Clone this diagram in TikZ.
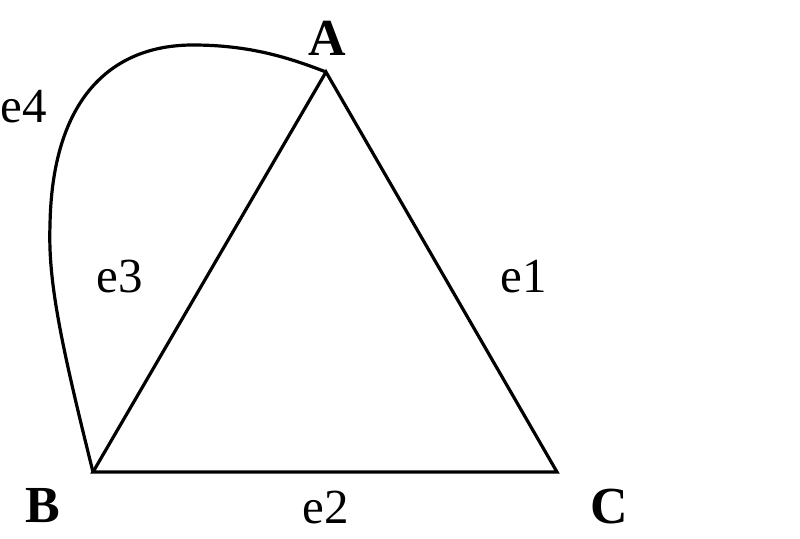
\documentclass[tikz,border=0pt]{standalone}
\usepackage{fontspec}
\setmainfont{Liberation Serif}
\usetikzlibrary{calc}
\usetikzlibrary{positioning}
\begin{document}
\begin{tikzpicture}[
	x=1pt, y=-1pt,
	edge/.style = {line width=3.2pt, line join=miter},
	vlabel/.style = {font=\fontsize{52}{54}\selectfont\bfseries},
	elabel/.style = {font=\fontsize{49}{52}\selectfont}
	]
	\useasboundingbox (0,0) rectangle (800,538);

	\coordinate (A) at (326,72);
	\coordinate (B) at (93,472);
	\coordinate (C) at (557,472);
	\coordinate (@1) at (50,225);
	\coordinate (@2) at (193,45);

	\draw[edge] (A) -- (C) -- (B) -- cycle;
	\draw[edge] (B) .. controls (60,340) and (48,280) .. (@1)
		.. controls (52,100) and (110,45) .. (@2)
		.. controls (250,45) and (290,58) .. (A);

	\node[vlabel] (lA) at (327,38) {A};
	\node[vlabel] (lB) at (43,506) {B};
	\node[vlabel] (lC) at (609,507) {C};

	\node[elabel] (e1) at (524,277) {e1};
	\node[elabel] (e2) at (326,508) {e2};
	\node[elabel] (e3) at (120,277) {e3};
	\node[elabel] (e4) at (24,107) {e4};

\end{tikzpicture}
\end{document}
